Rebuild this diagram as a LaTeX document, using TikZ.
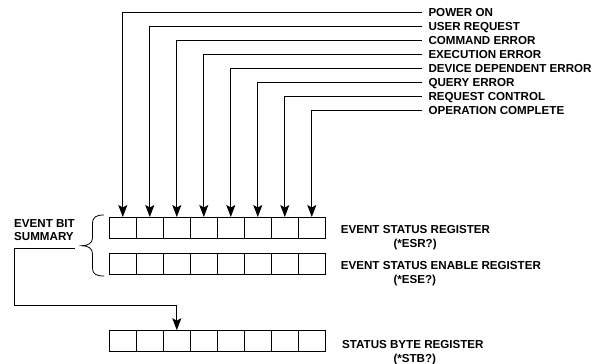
\documentclass[tikz,border=0pt]{standalone}
\usepackage{fontspec}
\setmainfont{Liberation Sans}
\usetikzlibrary{arrows.meta,calc}
\begin{document}
\begin{tikzpicture}[x=1pt,y=-1pt,
  cell/.style={draw, line width=1pt, minimum width=27pt, minimum height=21pt, inner sep=0pt, outer sep=0pt},
  lbl/.style={anchor=west, inner xsep=0pt, inner ysep=0pt, text height=8.3pt, text depth=0pt, font=\fontsize{11.6}{14}\selectfont\bfseries},
  toplbl/.style={lbl, inner xsep=6.6pt},
  conn/.style={line width=1pt},
  arr/.style={conn, -{Stealth[length=12pt,width=9pt,inset=2.5pt]}}
]
\fill[white] (0,0) rectangle (592,364);
\useasboundingbox (0,0) rectangle (592,364);

% registers
\foreach \i in {1,...,8} {
  \node[cell] (e\i) at ({122.8+27*(\i-1)},227.5) {};
  \node[cell] (n\i) at ({122.8+27*(\i-1)},263.7) {};
  \node[cell] (s\i) at ({122.8+27*(\i-1)},340.7) {};
}

% top labels and connectors
\foreach \t [count=\i] in {POWER ON, USER REQUEST, COMMAND ERROR, EXECUTION ERROR, DEVICE DEPENDENT ERROR, QUERY ERROR, REQUEST CONTROL, OPERATION COMPLETE} {
  \node[toplbl] (t\i) at (421.7, {12.5+14*(\i-1)}) {\t};
  \draw[arr] (t\i.west) -| (e\i.north);
}

% register labels
\node[lbl] (esr) at (340.7,229.3) {EVENT STATUS REGISTER};
\node[lbl] (esrq) at (393.3,243.5) {(*ESR?)};
\node[lbl] (ese) at (340.7,265) {EVENT STATUS ENABLE REGISTER};
\node[lbl] (eseq) at (393.3,279.5) {(*ESE?)};
\node[lbl] (stb) at (342,344) {STATUS BYTE REGISTER};
\node[lbl] (stbq) at (393.3,358) {(*STB?)};

% event bit summary
\node[lbl] (ebs1) at (14,223.5) {EVENT BIT};
\node[lbl] (ebs2) at (14,236) {SUMMARY};

% brace
\draw[line width=0.8pt] (104,215) .. controls (96,215) and (92.5,217) .. (92.5,224)
  -- (92.5,238) .. controls (92.5,243) and (88,245.7) .. (82,245.7)
  .. controls (88,245.7) and (92.5,248.5) .. (92.5,253.5)
  -- (92.5,268) .. controls (92.5,274) and (96,276) .. (104,276);

% summary connector
\coordinate (sumR) at (75,248);
\coordinate (sumL) at (14,248);
\coordinate (bend) at (14,305);
\draw[arr] (sumR) -- (sumL) -- (bend) -| (s3.north);
\end{tikzpicture}
\end{document}
